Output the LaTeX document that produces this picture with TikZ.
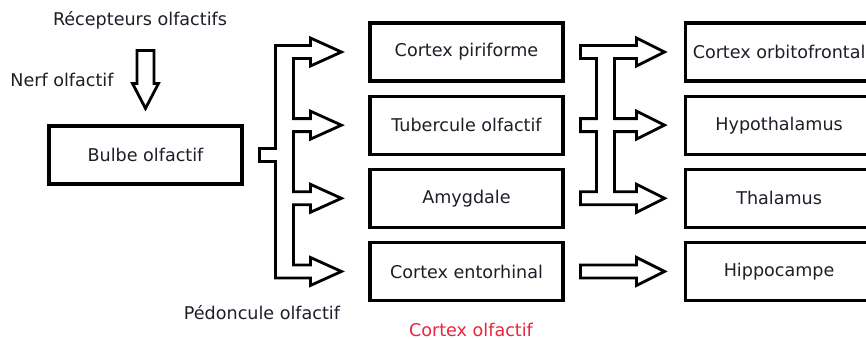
\documentclass[tikz,border=0pt]{standalone}
\usepackage{fontspec}
\setmainfont{DejaVu Sans}
\usetikzlibrary{positioning,calc}
\definecolor{inktext}{RGB}{30,30,40}
\definecolor{cortexred}{RGB}{235,35,60}
% hollow arrow head ending at #1, head length #2
\newcommand{\ahead}[2]{-- ($(#1)+(-#2,-6.5)$) -- ($(#1)+(-#2,-14)$) -- (#1) -- ($(#1)+(-#2,14)$) -- ($(#1)+(-#2,6.5)$)}

\begin{document}
\begin{tikzpicture}[
    x=0.02cm, y=-0.02cm,
    font=\fontsize{10}{12}\selectfont,
    region/.style={rectangle, draw=black, line width=1.8pt, minimum width=3.86cm,
                 minimum height=1.16cm, align=center, text=inktext},
    tag/.style={text=inktext},
    hollow/.style={draw=black, line width=1.6pt, fill=white, line join=miter}
]
\useasboundingbox (0,0) rectangle (866,339);
\node[tag] (recep) at (140,20) {Récepteurs olfactifs};
\node[tag] (nerf) at (62,80) {Nerf olfactif};
\node[region] (bulbe) at (145.5,155) {Bulbe olfactif};
\node[region] (piri) at (466.5,52) {Cortex piriforme};
\node[region, below=0.24cm of piri] (tuber) {Tubercule olfactif};
\node[region, below=0.24cm of tuber] (amyg) {Amygdale};
\node[region, below=0.24cm of amyg] (ento) {Cortex entorhinal};
\node[region, minimum width=3.76cm, right=2.38cm of piri] (orbi) {Cortex orbitofrontal};
\node[region, minimum width=3.76cm, below=0.24cm of orbi] (hypo) {Hypothalamus};
\node[region, minimum width=3.76cm, below=0.24cm of hypo] (thal) {Thalamus};
\node[region, minimum width=3.76cm, below=0.24cm of thal] (hippo) {Hippocampe};
\node[tag] (pedo) at (262,313) {Pédoncule olfactif};
\node[text=cortexred] (cortex) at (471,330) {Cortex olfactif};

% arrow tips
\coordinate (dtip) at ($(bulbe.north)+(0,-16)$);
\coordinate (t1) at ($(piri.west)+(-27,0)$);
\coordinate (t2) at ($(tuber.west)+(-27,0)$);
\coordinate (t3) at ($(amyg.west)+(-27,0)$);
\coordinate (t4) at ($(ento.west)+(-27,0)$);
\coordinate (r1) at ($(orbi.west)+(-19,0)$);
\coordinate (r2) at ($(hypo.west)+(-19,0)$);
\coordinate (r3) at ($(thal.west)+(-19,0)$);
\coordinate (r4) at ($(hippo.west)+(-19,0)$);

% nerf olfactif
\draw[hollow] ($(dtip)+(-8.5,-58)$) -- ($(dtip)+(8.5,-58)$) -- ($(dtip)+(8.5,-25)$)
    -- ($(dtip)+(13,-25)$) -- (dtip) -- ($(dtip)+(-13,-25)$) -- ($(dtip)+(-8.5,-25)$) -- cycle;

% pedoncule olfactif
\draw[hollow] ($(bulbe.east)+(16,-6.5)$) -- ($(t1 |- bulbe.east)+(-66,-6.5)$) -- ($(t1)+(-66,-6.5)$)
    \ahead{t1}{31} -- ($(t1)+(-48,6.5)$) -- ($(t2)+(-48,-6.5)$)
    \ahead{t2}{31} -- ($(t2)+(-48,6.5)$) -- ($(t3)+(-48,-6.5)$)
    \ahead{t3}{31} -- ($(t3)+(-48,6.5)$) -- ($(t4)+(-48,-6.5)$)
    \ahead{t4}{31} -- ($(t4)+(-66,6.5)$) -- ($(t1 |- bulbe.east)+(-66,6.5)$)
    -- ($(bulbe.east)+(16,6.5)$) -- cycle;

% vers orbitofrontal, hypothalamus, thalamus
\draw[hollow] ($(r1)+(-84,-6.5)$)
    \ahead{r1}{28} -- ($(r1)+(-50,6.5)$) -- ($(r2)+(-50,-6.5)$)
    \ahead{r2}{28} -- ($(r2)+(-50,6.5)$) -- ($(r3)+(-50,-6.5)$)
    \ahead{r3}{28} -- ($(r3)+(-84,6.5)$) -- ($(r3)+(-84,-6.5)$) -- ($(r3)+(-68,-6.5)$)
    -- ($(r2)+(-68,6.5)$) -- ($(r2)+(-84,6.5)$) -- ($(r2)+(-84,-6.5)$) -- ($(r2)+(-68,-6.5)$)
    -- ($(r1)+(-68,6.5)$) -- ($(r1)+(-84,6.5)$) -- cycle;

% vers hippocampe
\draw[hollow] ($(r4)+(-84,-6.5)$) \ahead{r4}{28} -- ($(r4)+(-84,6.5)$) -- cycle;
\end{tikzpicture}
\end{document}
